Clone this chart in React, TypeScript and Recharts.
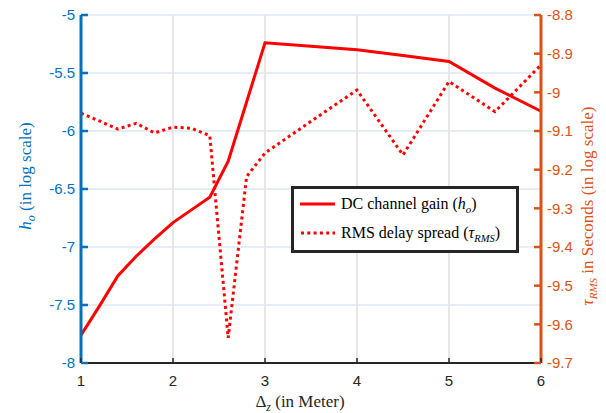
import React from 'react';
import { LineChart, Line, XAxis, YAxis, CartesianGrid, Legend } from 'recharts';

// spacing between transmitter and receiver (m)
const distances = [1, 1.2, 1.4, 1.6, 1.8, 2, 2.2, 2.4, 2.6, 2.8, 3, 3.5, 4, 4.5, 5, 5.5, 6];
// DC channel gain h_o, log scale
const dcGain = [-7.76, -7.51, -7.25, -7.08, -6.93, -6.79, -6.68, -6.57, -6.26, -5.75, -5.24, -5.27, -5.3, -5.35, -5.4, -5.63, -5.83];
// RMS delay spread tau_RMS, log scale
const rmsDelay = [-9.054, -9.074, -9.095, -9.08, -9.105, -9.09, -9.093, -9.112, -9.635, -9.218, -9.157, -9.075, -8.994, -9.162, -8.972, -9.05, -8.929];

const xTicks = [1, 2, 3, 4, 5, 6];
const leftTicks = [-8, -7.5, -7, -6.5, -6, -5.5, -5];
const rightTicks = [-9.7, -9.6, -9.5, -9.4, -9.3, -9.2, -9.1, -9, -8.9, -8.8];

const data = distances.map((d, i) => ({ dz: d, h: dcGain[i], tau: rmsDelay[i] }));

const BLUE = '#0072BD';
const ORANGE = '#D95319';
const DARK = '#262626';
const RED = '#FF0000';
const SANS = "'Liberation Sans', Arial, sans-serif";
const SERIF = "'Liberation Serif', 'DejaVu Serif', serif";

const BottomTick = (props: any) => {
    const { x, y, payload } = props;
    return (
        <g>
            <line x1={x} x2={x} y1={y} y2={y - 5} stroke={DARK} strokeWidth={1.5} />
            <text x={x} y={y + 23} textAnchor="middle" fill={DARK} fontSize={15} style={{ fontFamily: SANS }}>
                {payload.value}
            </text>
        </g>
    );
};

const LeftTick = (props: any) => {
    const { x, y, payload } = props;
    return (
        <g>
            <line x1={x} x2={x + 7} y1={y} y2={y} stroke={BLUE} strokeWidth={2.5} />
            <text x={x - 6} y={y} dy="0.36em" textAnchor="end" fill={BLUE} fontSize={15} style={{ fontFamily: SANS }}>
                {payload.value}
            </text>
        </g>
    );
};

const RightTick = (props: any) => {
    const { x, y, payload } = props;
    return (
        <g>
            <line x1={x} x2={x - 7} y1={y} y2={y} stroke={ORANGE} strokeWidth={2.5} />
            <text x={x + 6} y={y} dy="0.36em" textAnchor="start" fill={ORANGE} fontSize={15} style={{ fontFamily: SANS }}>
                {payload.value}
            </text>
        </g>
    );
};

const XTitle = (props: any) => {
    const { viewBox } = props;
    const cx = viewBox.x + viewBox.width / 2 - 11;
    return (
        <text x={cx} y={viewBox.y + 44} textAnchor="middle" fill={DARK} fontSize={17} style={{ fontFamily: SERIF }}>
            <tspan>Δ</tspan>
            <tspan fontStyle="italic" fontSize={12} dy={4}>z</tspan>
            <tspan dy={-4}>{'  (in Meter)'}</tspan>
        </text>
    );
};

const LeftTitle = (props: any) => {
    const { viewBox } = props;
    const cx = viewBox.x + 26;
    const cy = viewBox.y + viewBox.height / 2 - 13;
    return (
        <text x={cx} y={cy} transform={`rotate(-90 ${cx} ${cy})`} dy="0.3em" textAnchor="middle" fill={BLUE} fontSize={17} style={{ fontFamily: SERIF }}>
            <tspan fontStyle="italic">h</tspan>
            <tspan fontStyle="italic" fontSize={12} dy={4}>o</tspan>
            <tspan dy={-4}>{' (in log scale)'}</tspan>
        </text>
    );
};

const RightTitle = (props: any) => {
    const { viewBox } = props;
    const cx = viewBox.x + 47;
    const cy = viewBox.y + viewBox.height / 2 + 17;
    return (
        <text x={cx} y={cy} transform={`rotate(-90 ${cx} ${cy})`} dy="0.3em" textAnchor="middle" fill={ORANGE} fontSize={17} style={{ fontFamily: SERIF }}>
            <tspan fontStyle="italic">τ</tspan>
            <tspan fontStyle="italic" fontSize={11} dy={4}>RMS</tspan>
            <tspan dy={-4}>{' in Seconds (in log scale)'}</tspan>
        </text>
    );
};

const subStyle = (size: number) => ({ fontSize: size, fontStyle: 'italic', position: 'relative' as const, top: 4, lineHeight: 0 });

const LegendBox = () => (
    <div
        style={{
            boxSizing: 'border-box',
            width: 228,
            height: 67,
            border: `3px solid ${DARK}`,
            background: '#fff',
            padding: '0 0 0 6px',
            fontFamily: SERIF,
            fontSize: 16,
            color: '#000',
        }}
    >
        <div style={{ display: 'flex', alignItems: 'center', whiteSpace: 'nowrap', height: 29 }}>
            <svg width={38} height={10} style={{ marginRight: 3 }}>
                <line x1={0} x2={35} y1={5} y2={5} stroke={RED} strokeWidth={3} />
            </svg>
            <span>
                DC channel gain (<i>h</i><span style={subStyle(11)}>o</span>)
            </span>
        </div>
        <div style={{ display: 'flex', alignItems: 'center', whiteSpace: 'nowrap', height: 29 }}>
            <svg width={38} height={10} style={{ marginRight: 3 }}>
                <line x1={1} x2={35} y1={5} y2={5} stroke={RED} strokeWidth={3} strokeDasharray="3 3.3" />
            </svg>
            <span>
                RMS delay spread (<i>τ</i><span style={subStyle(10.5)}>RMS</span>)
            </span>
        </div>
    </div>
);

export default function App() {
    return (
        <div style={{ position: 'absolute', left: 0, top: 0, width: 606, height: 413, background: '#fff' }}>
            <LineChart width={606} height={413} data={data} margin={{ top: 15, right: 0, bottom: 0, left: 0 }}>
                <CartesianGrid yAxisId="left" horizontal={true} vertical={false} stroke="#dce9f4" strokeWidth={1.6} />
                <CartesianGrid yAxisId="left" horizontal={false} vertical={true} stroke="#e2e2e2" strokeWidth={1.6} />
                <XAxis
                    dataKey="dz"
                    type="number"
                    domain={[1, 6]}
                    ticks={xTicks}
                    height={50}
                    tickSize={0}
                    tickMargin={0}
                    tickLine={false}
                    tick={<BottomTick />}
                    axisLine={{ stroke: DARK, strokeWidth: 2 }}
                    label={<XTitle />}
                />
                <YAxis
                    yAxisId="left"
                    orientation="left"
                    type="number"
                    domain={[-8, -5]}
                    ticks={leftTicks}
                    width={81}
                    tickSize={0}
                    tickMargin={0}
                    tickLine={false}
                    tick={<LeftTick />}
                    axisLine={{ stroke: BLUE, strokeWidth: 3 }}
                    label={<LeftTitle />}
                />
                <YAxis
                    yAxisId="right"
                    orientation="right"
                    type="number"
                    domain={[-9.7, -8.8]}
                    ticks={rightTicks}
                    width={65}
                    tickSize={0}
                    tickMargin={0}
                    tickLine={false}
                    tick={<RightTick />}
                    axisLine={{ stroke: ORANGE, strokeWidth: 3 }}
                    label={<RightTitle />}
                />
                <Line
                    yAxisId="left"
                    dataKey="h"
                    stroke={RED}
                    strokeWidth={3}
                    dot={false}
                    isAnimationActive={false}
                />
                <Line
                    yAxisId="right"
                    dataKey="tau"
                    stroke={RED}
                    strokeWidth={3}
                    strokeDasharray="3 3.3"
                    dot={false}
                    isAnimationActive={false}
                />
                <Legend
                    layout="horizontal"
                    verticalAlign="middle"
                    align="center"
                    content={<LegendBox />}
                    wrapperStyle={{ left: 291, top: 186, width: 228, height: 67 }}
                />
            </LineChart>
        </div>
    );
}
